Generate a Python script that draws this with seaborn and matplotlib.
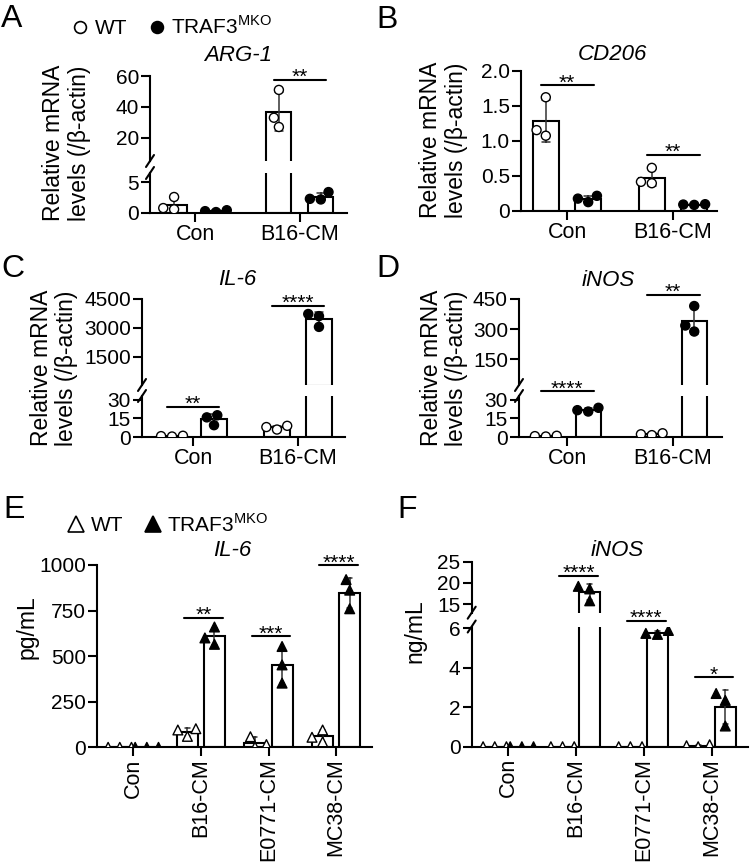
import matplotlib
matplotlib.use("Agg")
import matplotlib.pyplot as plt
from matplotlib.lines import Line2D
import seaborn as sns
import pandas as pd
import numpy as np

W, H = 750, 864

# replicate values (3 per bar)
GROUPS_AD = ["Con", "B16-CM"]
GROUPS_EF = ["Con", "B16-CM", "E0771-CM", "MC38-CM"]

ARG1_WT = [[2.6, 0.8, 0.6], [51, 33, 27]]
ARG1_KO = [[0.45, 0.3, 0.15], [3.4, 2.3, 2.2]]
CD206_WT = [[1.62, 1.15, 1.07], [0.61, 0.41, 0.39]]
CD206_KO = [[0.21, 0.17, 0.12], [0.09, 0.085, 0.08]]
IL6_WT = [[1.0, 0.7, 0.4], [9.0, 8.0, 6.0]]
IL6_KO = [[15.8, 17.5, 9.5], [3720, 3610, 3050]]
INOS_WT = [[1.0, 0.7, 0.4], [3.0, 2.2, 1.5]]
INOS_KO = [[23.5, 21.6, 20.5], [415, 318, 288]]
IL6_PG_WT = [[0, 0, 0], [102, 95, 60], [58, 15, 2], [95, 55, 30]]
IL6_PG_KO = [[0, 0, 0], [660, 600, 565], [553, 452, 352], [920, 862, 760]]
INOS_NG_WT = [[0, 0, 0], [0, 0, 0], [0, 0, 0], [0.1, 0.05, 0.0]]
INOS_NG_KO = [[0, 0, 0], [19.2, 18.6, 15.8], [5.9, 5.75, 5.7], [2.7, 2.35, 1.05]]

# significance: (group index, y, stars, which axis)
SIG_A = [(1, 57.4, "**", "top")]
SIG_B = [(0, 1.79, "**", "bot"), (1, 0.80, "**", "bot")]
SIG_C = [(0, 24, "**", "bot"), (1, 4150, "****", "top")]
SIG_D = [(0, 36.7, "****", "bot"), (1, 470, "**", "top")]
SIG_E = [(1, 709, "**", "bot"), (2, 608, "***", "bot"), (3, 998, "****", "bot")]
SIG_F = [(1, 21.6, "****", "top"), (2, 6.38, "****", "bot"), (3, 3.52, "*", "bot")]

sns.set_theme(style="ticks")
plt.rcParams.update({
    "font.family": ["Liberation Sans", "DejaVu Sans"],
    "mathtext.fontset": "custom", "mathtext.rm": "Liberation Sans",
    "axes.linewidth": 1.5, "axes.edgecolor": "black",
    "xtick.major.width": 1.5, "ytick.major.width": 1.5,
    "xtick.major.size": 6.5, "ytick.major.size": 6.5,
    "xtick.major.pad": 1.5, "ytick.major.pad": 1.5,
    "xtick.labelsize": 15.5, "ytick.labelsize": 15,
    "xtick.color": "black", "ytick.color": "black", "text.color": "black",
})

fig = plt.figure(figsize=(W / 100, H / 100), dpi=100)


def box(x0, y0, x1, y1):
    return [x0 / W, 1 - y1 / H, (x1 - x0) / W, (y1 - y0) / H]


def tidy(groups, wt, ko):
    rows = []
    for g, a, b in zip(groups, wt, ko):
        rows += [(g, "WT", v) for v in a] + [(g, "KO", v) for v in b]
    return pd.DataFrame(rows, columns=["group", "geno", "value"])


def draw(ax, df, groups, marker, gap, size, ylim, top):
    sns.barplot(data=df, x="group", y="value", hue="geno", order=groups,
                hue_order=["WT", "KO"], palette={"WT": "white", "KO": "white"},
                errorbar="sd", capsize=0.14, gap=gap, edgecolor="black",
                linewidth=1.5, err_kws={"color": "0.2", "linewidth": 1.1},
                legend=False, ax=ax)
    lo, hi = ylim
    floor = lo + 0.04 * (hi - lo) if top else lo
    if top:
        # short bars would sit on the lower edge of the upper segment
        for p in ax.patches:
            if p.get_height() < floor:
                p.set_visible(False)
        for ln in ax.lines:
            if np.nanmax(ln.get_ydata()) < floor:
                ln.set_visible(False)
    # only the points that fall inside this segment of a broken axis
    pts = df[(df["value"] >= floor) & (df["value"] <= hi)]
    sns.swarmplot(data=pts, x="group", y="value", hue="geno", order=groups,
                  hue_order=["WT", "KO"], palette={"WT": "white", "KO": "black"},
                  dodge=True, marker=marker, size=size, edgecolor="black",
                  linewidth=1, legend=False, ax=ax)


def finish(ax, xlim, ylim, yticks, ylabels=None):
    ax.set_xlim(*xlim)
    ax.set_ylim(*ylim)
    ax.set_yticks(yticks, ylabels or [f"{v:g}" for v in yticks])
    ax.set_xlabel("")
    ax.set_ylabel("")
    ax.spines[["top", "right"]].set_visible(False)


def slash(x, y):
    fig.add_artist(Line2D([(x - 4) / W, (x + 4) / W], [1 - (y + 6) / H, 1 - (y - 6) / H],
                          color="black", lw=1.5, transform=fig.transFigure))


def sig(axes, marks, lo, hi):
    for g, y, s, where in marks:
        ax = axes[where]
        ax.plot([g + lo, g + hi], [y, y], color="black", lw=1.5, clip_on=False)
        ax.annotate(s, (g + (lo + hi) / 2, y), xytext=(0, -2.2), textcoords="offset points",
                    ha="center", va="baseline", fontsize=15, annotation_clip=False)


def panel(boxes, df, groups, xlim, ylims, yticks, marker="o", gap=0.4, size=6.5,
          ylabels=None, rot=0):
    axes = {}
    for key, b, yl, yt in zip(("top", "bot"), boxes, ylims, yticks):
        if b is None:
            continue
        ax = fig.add_axes(box(*b))
        draw(ax, df, groups, marker, gap, size, yl, key == "top")
        finish(ax, xlim, yl, yt, ylabels if key == "bot" else None)
        axes[key] = ax
    if "top" in axes:
        axes["top"].spines["bottom"].set_visible(False)
        axes["top"].tick_params(axis="x", bottom=False, labelbottom=False)
        slash(boxes[0][0], boxes[0][3])
        slash(boxes[1][0], boxes[1][1])
    axes["bot"].tick_params(axis="x", labelrotation=rot)
    return axes


# A - ARG-1
ax = panel([(150, 76, 347, 161), (150, 173, 347, 213)], tidy(GROUPS_AD, ARG1_WT, ARG1_KO),
           GROUPS_AD, (-0.43, 1.45), [(5, 60), (0, 6.5)], [[20, 40, 60], [0, 5]])
sig(ax, SIG_A, -0.25, 0.25)

# B - CD206
ax = panel([None, (521, 70.7, 717, 210.5)], tidy(GROUPS_AD, CD206_WT, CD206_KO),
           GROUPS_AD, (-0.434, 1.415), [None, (0, 2.0)], [None, [0, 0.5, 1.0, 1.5, 2.0]],
           ylabels=["0", "0.5", "1.0", "1.5", "2.0"])
sig(ax, SIG_B, -0.25, 0.25)

# C - IL-6 mRNA
ax = panel([(142, 299, 345, 385), (142, 396, 345, 437)], tidy(GROUPS_AD, IL6_WT, IL6_KO),
           GROUPS_AD, (-0.486, 1.448), [(28, 4500), (0, 33)], [[1500, 3000, 4500], [0, 15, 30]])
sig(ax, SIG_C, -0.25, 0.25)

# D - iNOS mRNA
ax = panel([(519, 299, 722, 385), (519, 396, 722, 437)], tidy(GROUPS_AD, INOS_WT, INOS_KO),
           GROUPS_AD, (-0.453, 1.462), [(22, 450), (0, 33)], [[150, 300, 450], [0, 15, 30]])
sig(ax, SIG_D, -0.25, 0.25)

# E - IL-6 protein
ax = panel([None, (97, 565, 372, 747.3)], tidy(GROUPS_EF, IL6_PG_WT, IL6_PG_KO),
           GROUPS_EF, (-0.537, 3.53), [None, (0, 1000)], [None, [0, 250, 500, 750, 1000]],
           marker="^", gap=0.22, size=7, rot=90)
sig(ax, SIG_E, -0.25, 0.32)

# F - iNOS protein
ax = panel([(471.7, 561.7, 748, 612.7), (471.7, 626.5, 748, 746.7)],
           tidy(GROUPS_EF, INOS_NG_WT, INOS_NG_KO), GROUPS_EF, (-0.54, 3.535),
           [(13, 25), (0, 6.1)], [[15, 20, 25], [0, 2, 4, 6]], marker="^", gap=0.22,
           size=7, rot=90)
sig(ax, SIG_F, -0.25, 0.32)


def txt(x, y, s, **kw):
    fig.text(x / W, 1 - y / H, s, **kw)


for x, y, s in [(1, 27, "A"), (376, 28, "B"), (1, 277, "C"), (376, 277, "D"),
                (3, 518, "E"), (397, 518, "F")]:
    txt(x, y, s, fontsize=23, va="baseline", ha="left")

for x, y, s in [(238, 61, "ARG-1"), (612, 60, "CD206"), (237, 285, "IL-6"),
                (608, 286, "iNOS"), (232, 556, "IL-6"), (617, 556, "iNOS")]:
    txt(x, y, s, fontsize=16, style="italic", ha="center", va="baseline")

YLAB = "Relative mRNA\nlevels (/\u03b2-actin)"
for x, y, s in [(66.5, 143, YLAB), (443.5, 140, YLAB), (54, 368, YLAB), (444, 368, YLAB),
                (27, 627, "pg/mL"), (415, 631, "ng/mL")]:
    txt(x, y, s, fontsize=16.5, rotation=90, ha="center", va="center",
        multialignment="center", linespacing=1.15)


def legend(x, y, marker, ms):
    h = [Line2D([], [], ls="none", marker=marker, ms=ms, mfc=c, mec="black", mew=1.2)
         for c in ("white", "black")]
    fig.legend(h, ["WT", r"TRAF3$^{\mathregular{MKO}}$"], loc="center left",
               bbox_to_anchor=(x / W, 1 - y / H), ncol=2, frameon=False, borderpad=0,
               borderaxespad=0, handlelength=0.6, handletextpad=0.4, columnspacing=1.1,
               fontsize=15)


legend(74, 27, "o", 8.5)
legend(70, 524, "^", 11)

fig.savefig("out.png", dpi=100)
